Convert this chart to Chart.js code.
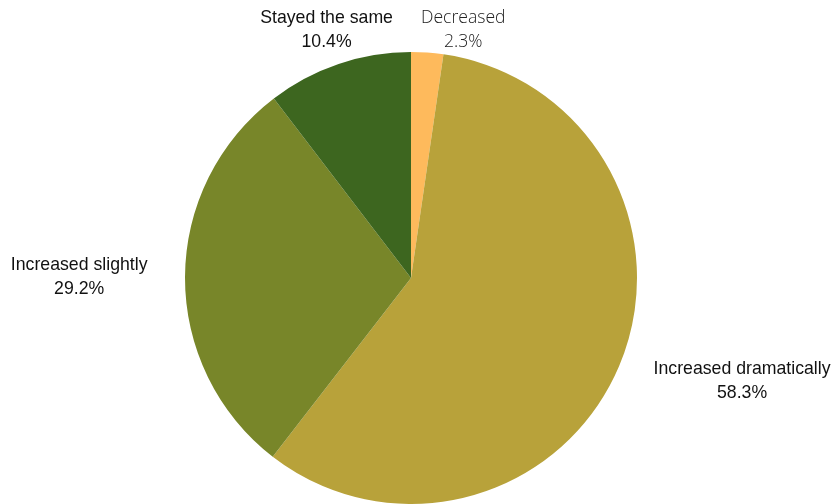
<!DOCTYPE html>
<html>
<head>
<meta charset="utf-8">
<script src="https://cdn.jsdelivr.net/npm/chart.js@4.4.0/dist/chart.umd.min.js"></script>
<style>
  body { margin: 0; background: #fff; }
</style>
</head>
<body>
<canvas id="pieChart" width="834" height="504"></canvas>
<script>
const categories = ['Decreased', 'Increased dramatically', 'Increased slightly', 'Stayed the same'];
const shares = [2.3, 58.3, 29.2, 10.4];
const sliceColors = ['#FEBA5C', '#B8A23A', '#788629', '#3D661F'];

// Draw outside labels: name on one line, percentage below
const outsideLabels = {
    id: 'outsideLabels',
    afterDatasetsDraw(chart) {
        const ctx = chart.ctx;
        const arcs = chart.getDatasetMeta(0).data;
        const lineH = 24;
        const pad = 37.5;
        const boxes = [];

        arcs.forEach((arc, i) => {
            const mid = (arc.startAngle + arc.endAngle) / 2;
            const dx = Math.cos(mid), dy = Math.sin(mid);
            const r = arc.outerRadius + pad;
            const ax = arc.x + dx * r;
            const ay = arc.y + dy * r;
            const light = i === 0;
            ctx.font = light ? '300 17.6px "Open Sans", sans-serif' : '17.7px "Liberation Sans", Arial, sans-serif';
            const w = Math.max(ctx.measureText(categories[i]).width, ctx.measureText(shares[i] + '%').width);
            let cx, cy;
            if (Math.abs(dx) > 0.5) {
                cx = ax + Math.sign(dx) * w / 2;
                cy = ay;
            } else {
                cx = ax;
                cy = Math.max(ay, 6 + lineH);
            }
            boxes.push({ i, cx, cy, w, font: ctx.font, light });
        });

        // push apart the two top labels if they overlap
        const top = boxes.filter(b => b.cy < chart.height / 4).sort((a, b) => a.cx - b.cx);
        for (let k = 1; k < top.length; k++) {
            const prev = top[k - 1], cur = top[k];
            const minGap = 28;
            const need = prev.cx + prev.w / 2 + minGap - (cur.cx - cur.w / 2);
            if (need > 0) cur.cx += need;
        }

        ctx.save();
        ctx.textAlign = 'center';
        ctx.textBaseline = 'middle';
        boxes.forEach(b => {
            ctx.font = b.font;
            ctx.fillStyle = b.light ? '#222' : '#111';
            ctx.fillText(categories[b.i], b.cx, b.cy - lineH / 2);
            ctx.fillText(shares[b.i] + '%', b.cx, b.cy + lineH / 2);
        });
        ctx.restore();
    }
};

const ctx = document.getElementById('pieChart').getContext('2d');
new Chart(ctx, {
    type: 'pie',
    data: {
        labels: categories,
        datasets: [{
            data: shares,
            backgroundColor: sliceColors,
            borderWidth: 0
        }]
    },
    options: {
        responsive: false,
        animation: false,
        layout: {
            padding: { top: 52, bottom: 0, left: 0, right: 12 }
        },
        plugins: {
            legend: { display: false },
            tooltip: { enabled: false }
        }
    },
    plugins: [outsideLabels]
});
</script>
</body>
</html>
